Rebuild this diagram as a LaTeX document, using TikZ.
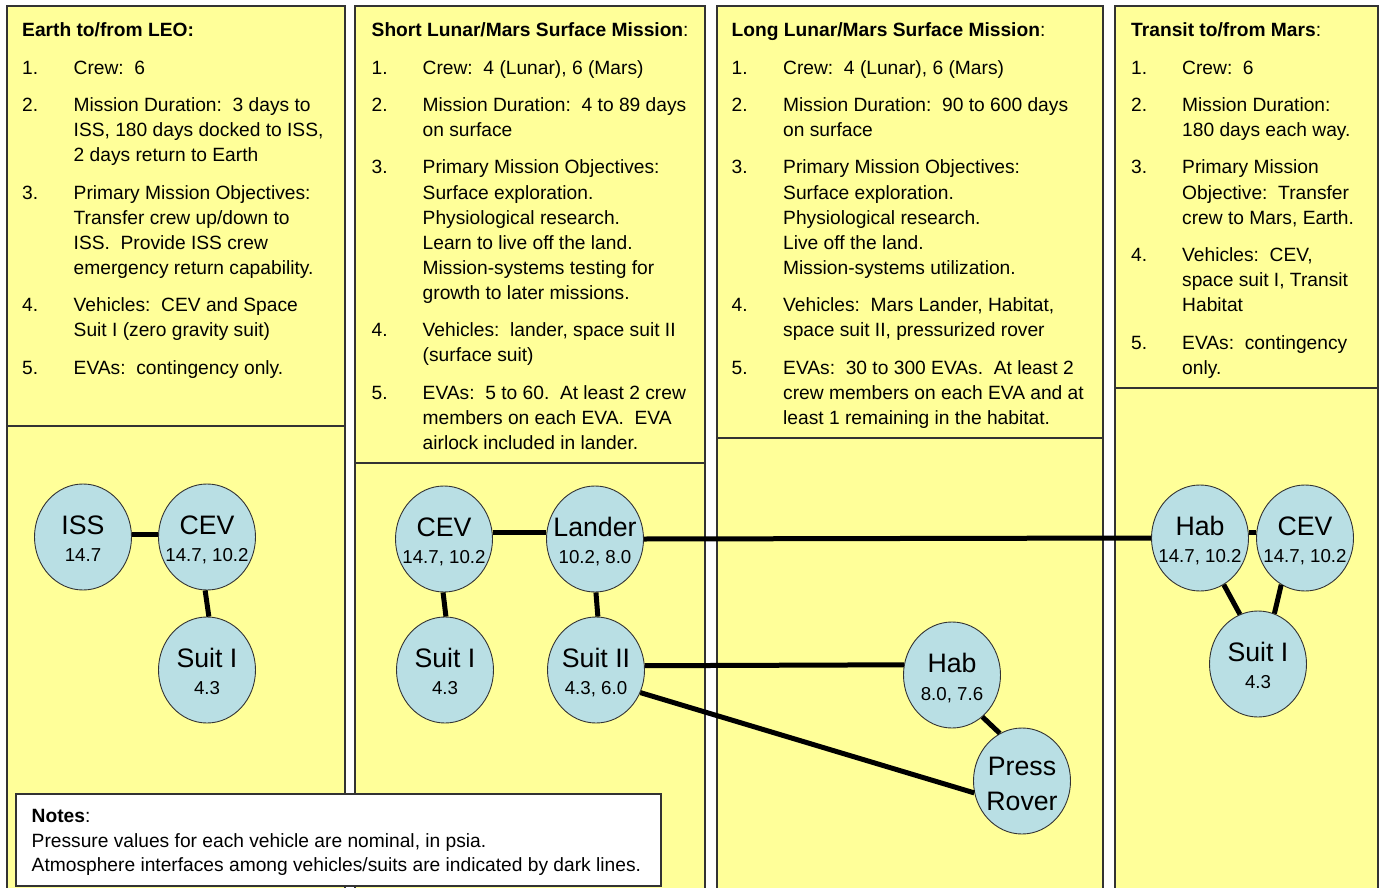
\documentclass[tikz,border=0pt]{standalone}
\usepackage{fontspec}
\setmainfont{Liberation Sans}
\usetikzlibrary{shapes.geometric}
\definecolor{paper}{HTML}{FFFF99}
\definecolor{vehblue}{HTML}{B9DFE4}
\definecolor{edgegray}{HTML}{333333}
\newcommand\hdrfont{\fontsize{19.2}{25.1}\selectfont}
\newcommand\itemgap{\\[12.3pt]}
\begin{document}
\begin{tikzpicture}[x=1pt,y=-1pt,
  colbox/.style={draw=edgegray,line width=1.4pt,fill=paper},
  coltext/.style={anchor=base west,inner sep=0pt,font=\hdrfont},
  veh/.style={ellipse,draw=edgegray,line width=0.9pt,fill=vehblue,minimum width=97pt,minimum height=106pt,inner sep=0pt},
  vname/.style={anchor=base,inner sep=0pt,font=\fontsize{26.7}{30}\selectfont},
  vnum/.style={anchor=base,inner sep=0pt,font=\fontsize{18.7}{22}\selectfont},
  conn/.style={line width=5pt,black},
  notebox/.style={draw=edgegray,line width=1.3pt,fill=white}]
\useasboundingbox (0,0) rectangle (1381,888);
\clip (0,0) rectangle (1381,888);
\fill[white] (0,0) rectangle (1381,888);
% columns
\draw[colbox] (7,6) rectangle (345,905);
\draw[colbox] (7,6) rectangle (345,426);
\draw[colbox] (355,6) rectangle (705,905);
\draw[colbox] (355,6) rectangle (705,463);
\draw[colbox] (717,6) rectangle (1103,905);
\draw[colbox] (717,6) rectangle (1103,438);
\draw[colbox] (1115,6) rectangle (1378,905);
\draw[colbox] (1115,6) rectangle (1378,388);
% column texts
\node[coltext] (t1) at (22,36.7) {\begin{tabular}[t]{@{}p{51.5pt}@{}l@{}}
\multicolumn{2}{@{}l@{}}{\textbf{Earth to/from LEO:}}\itemgap
1. & Crew:~~6\itemgap
2. & Mission Duration:~~3 days to\\
 & ISS, 180 days docked to ISS,\\
 & 2 days return to Earth\itemgap
3. & Primary Mission Objectives:\\
 & Transfer crew up/down to\\
 & ISS.~~Provide ISS crew\\
 & emergency return capability.\itemgap
4. & Vehicles:~~CEV and Space\\
 & Suit I (zero gravity suit)\itemgap
5. & EVAs:~~contingency only.
\end{tabular}};
\node[coltext] (t2) at (371.5,36.7) {\begin{tabular}[t]{@{}p{51pt}@{}l@{}}
\multicolumn{2}{@{}l@{}}{\textbf{Short Lunar/Mars Surface Mission}:}\itemgap
1. & Crew:~~4 (Lunar), 6 (Mars)\itemgap
2. & Mission Duration:~~4 to 89 days\\
 & on surface\itemgap
3. & Primary Mission Objectives:\\
 & Surface exploration.\\
 & Physiological research.\\
 & Learn to live off the land.\\
 & Mission-systems testing for\\
 & growth to later missions.\itemgap
4. & Vehicles:~~lander, space suit II\\
 & (surface suit)\itemgap
5. & EVAs:~~5 to 60.~~At least 2 crew\\
 & members on each EVA.~~EVA\\
 & airlock included in lander.
\end{tabular}};
\node[coltext] (t3) at (731.5,36.7) {\begin{tabular}[t]{@{}p{51.5pt}@{}l@{}}
\multicolumn{2}{@{}l@{}}{\textbf{Long Lunar/Mars Surface Mission}:}\itemgap
1. & Crew:~~4 (Lunar), 6 (Mars)\itemgap
2. & Mission Duration:~~90 to 600 days\\
 & on surface\itemgap
3. & Primary Mission Objectives:\\
 & Surface exploration.\\
 & Physiological research.\\
 & Live off the land.\\
 & Mission-systems utilization.\itemgap
4. & Vehicles:~~Mars Lander, Habitat,\\
 & space suit II, pressurized rover\itemgap
5. & EVAs:~~30 to 300 EVAs.~~At least 2\\
 & crew members on each EVA and at\\
 & least 1 remaining in the habitat.
\end{tabular}};
\node[coltext] (t4) at (1131,36.7) {\begin{tabular}[t]{@{}p{51pt}@{}l@{}}
\multicolumn{2}{@{}l@{}}{\textbf{Transit to/from Mars}:}\itemgap
1. & Crew:~~6\itemgap
2. & Mission Duration:\\
 & 180 days each way.\itemgap
3. & Primary Mission\\
 & Objective:~~Transfer\\
 & crew to Mars, Earth.\itemgap
4. & Vehicles:~~CEV,\\
 & space suit I, Transit\\
 & Habitat\itemgap
5. & EVAs:~~contingency\\
 & only.
\end{tabular}};
% vehicles
\node[veh] (iss) at (83,537) {};
\node[veh] (cevA) at (207,537) {};
\node[veh] (suitA) at (207,670) {};
\node[veh] (cevB) at (444,539) {};
\node[veh] (lander) at (595,539) {};
\node[veh] (suitB) at (445,670) {};
\node[veh] (suitC) at (596,670) {};
\node[veh] (habA) at (952,675) {};
\node[veh] (rover) at (1022,781) {};
\node[veh] (habB) at (1200,538) {};
\node[veh] (cevC) at (1305,538) {};
\node[veh] (suitD) at (1258,664) {};
% connectors
\draw[conn] (iss.3) -- (cevA.177);
\draw[conn] (cevA.-92) -- (suitA.88);
\draw[conn] (cevB.8) -- (lander.172);
\draw[conn] (cevB.-91) -- (suitB.89);
\draw[conn] (lander.-89) -- (suitC.88);
\draw[conn] (lander.east) -- (habB.west);
\draw[conn] (suitC.5) -- (habA.168);
\draw[conn] (suitC.-27) -- (rover.194);
\draw[conn] (habA.-54) -- (rover.115);
\draw[conn] (habB.7) -- (cevC.173);
\draw[conn] (habB.-63) -- (suitD.110);
\draw[conn] (cevC.-117) -- (suitD.72);
% labels
\node[vname] (issn) at ([yshift=3pt]iss.center) {ISS};
\node[vnum] (issv) at ([yshift=-24.5pt]iss.center) {14.7};
\node[vname] (cevAn) at ([yshift=3pt]cevA.center) {CEV};
\node[vnum] (cevAv) at ([yshift=-24.5pt]cevA.center) {14.7, 10.2};
\node[vname] (suitAn) at ([yshift=3pt]suitA.center) {Suit I};
\node[vnum] (suitAv) at ([yshift=-24.5pt]suitA.center) {4.3};
\node[vname] (cevBn) at ([yshift=3pt]cevB.center) {CEV};
\node[vnum] (cevBv) at ([yshift=-24.5pt]cevB.center) {14.7, 10.2};
\node[vname] (landern) at ([yshift=3pt]lander.center) {Lander};
\node[vnum] (landerv) at ([yshift=-24.5pt]lander.center) {10.2, 8.0};
\node[vname] (suitBn) at ([yshift=3pt]suitB.center) {Suit I};
\node[vnum] (suitBv) at ([yshift=-24.5pt]suitB.center) {4.3};
\node[vname] (suitCn) at ([yshift=3pt]suitC.center) {Suit II};
\node[vnum] (suitCv) at ([yshift=-24.5pt]suitC.center) {4.3, 6.0};
\node[vname] (habAn) at ([yshift=2.5pt]habA.center) {Hab};
\node[vnum] (habAv) at ([yshift=-25pt]habA.center) {8.0, 7.6};
\node[vname] (roverp) at ([yshift=6pt]rover.center) {Press};
\node[vname] (roverr) at ([yshift=-29pt]rover.center) {Rover};
\node[vname] (habBn) at ([yshift=3pt]habB.center) {Hab};
\node[vnum] (habBv) at ([yshift=-24.5pt]habB.center) {14.7, 10.2};
\node[vname] (cevCn) at ([yshift=3pt]cevC.center) {CEV};
\node[vnum] (cevCv) at ([yshift=-24.5pt]cevC.center) {14.7, 10.2};
\node[vname] (suitDn) at ([yshift=3pt]suitD.center) {Suit I};
\node[vnum] (suitDv) at ([yshift=-24.5pt]suitD.center) {4.3};
% notes
\draw[notebox] (16,794) rectangle (661,886);
\node[anchor=base west,inner sep=0pt,font=\fontsize{19.2}{24.5}\selectfont] (notes) at (31.5,822.7) {\begin{tabular}[t]{@{}l@{}}
\textbf{Notes}:\\
Pressure values for each vehicle are nominal, in psia.\\
Atmosphere interfaces among vehicles/suits are indicated by dark lines.
\end{tabular}};
\end{tikzpicture}
\end{document}
